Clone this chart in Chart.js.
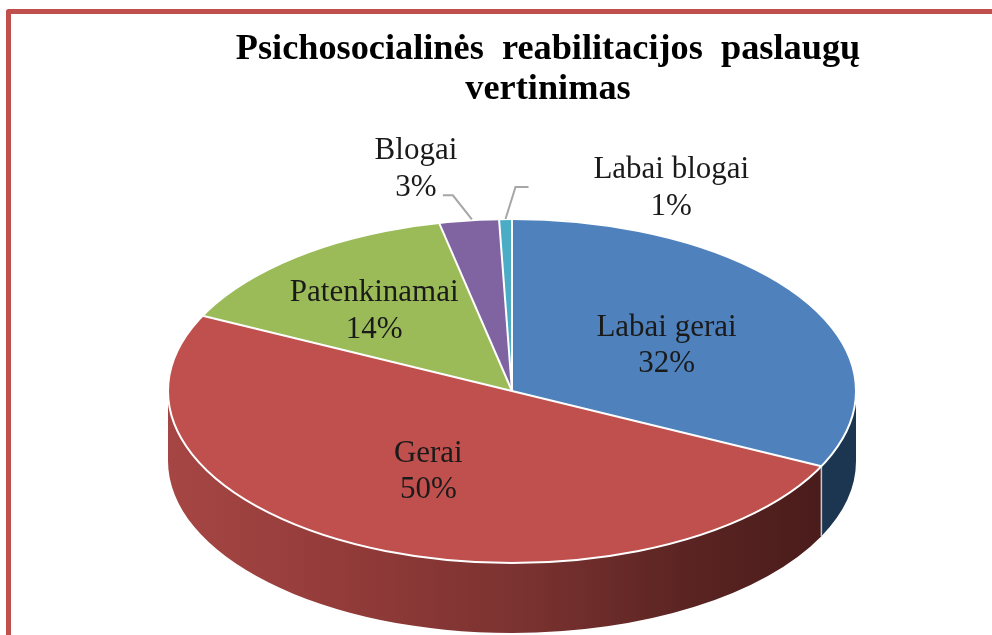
<!DOCTYPE html>
<html><head><meta charset="utf-8">
<style>html,body{margin:0;padding:0;background:#fff;overflow:hidden}canvas{display:block}</style>
<script src="https://cdn.jsdelivr.net/npm/chart.js@4"></script>
</head><body><canvas id="c" width="992" height="635"></canvas>
<script>
const categories = ["Labai gerai","Gerai","Patenkinamai","Blogai","Labai blogai"];
const values = [32.2,50.0,14.4,2.8,0.6];
const sliceColors = ["#4f81bd","#c0504d","#9bbb59","#8064a2","#4bacc6"];
const titleLines = ["Psichosocialinės  reabilitacijos  paslaugų","vertinimas"];

const pie3d = {cx:512,cy:391,rx:344,ry:172,depth:70};
const labelFont = '31px "Liberation Serif"';
const labelLineHeight = 36.5;
// label placement relative to each slice: radial factor, then pixel nudge
const labelPlace = [[0.53,0,3],[0.53,-4,-1],[0.62,-6,4],[1.3,-40,0],[1.19,167,2]];
// leader polylines, relative to the rim point of the slice
const leaders = [null,null,null,[[-26,-25],[-16,-25],[3,-1]],[[23,-32],[10,-32],[0,0]]];

function shadeSide(ctx,i){
  if(i===0) return "#1c3550";
  const g=ctx.createLinearGradient(pie3d.cx-pie3d.rx,0,pie3d.cx+308,0);
  g.addColorStop(0,"#a64644");
  g.addColorStop(0.25,"#943c3a");
  g.addColorStop(0.55,"#7a3230");
  g.addColorStop(0.8,"#5a2422");
  g.addColorStop(1,"#4a1c1b");
  return g;
}
const plugin = {
  id:"pie3d",
  beforeDraw(chart){
    const c=chart.ctx; c.save();
    c.fillStyle="#fff"; c.fillRect(0,0,chart.width,chart.height);
    c.strokeStyle="#c0504d"; c.lineWidth=5; c.lineJoin="round";
    c.strokeRect(8.5,11.5,1100,800);
    c.restore();
  },
  beforeDatasetsDraw(chart){
    const c=chart.ctx, arcs=chart.getDatasetMeta(0).data, p=pie3d;
    c.save();
    // side wall
    [1,0,2,3,4].forEach(i=>{
      const a=arcs[i];
      const a1=Math.max(a.startAngle,0), a2=Math.min(a.endAngle,Math.PI);
      if(a2<=a1) return;
      c.beginPath();
      c.ellipse(p.cx,p.cy,p.rx,p.ry,0,a1,a2);
      c.ellipse(p.cx,p.cy+p.depth,p.rx,p.ry,0,a2,a1,true);
      c.closePath();
      c.fillStyle=shadeSide(c,i); c.fill();
    });
    // seams of the wall
    arcs.forEach(a=>{
      const t=a.endAngle;
      if(t>0&&t<Math.PI){
        const x=p.cx+p.rx*Math.cos(t), y=p.cy+p.ry*Math.sin(t);
        c.beginPath(); c.moveTo(x,y); c.lineTo(x,y+p.depth);
        c.strokeStyle="#c9c9c9"; c.lineWidth=1.5; c.stroke();
      }
    });
    c.restore();
    // squash the flat pie into the ellipse
    const a0=arcs[0];
    c.save();
    c.translate(p.cx,p.cy);
    c.scale(p.rx/a0.outerRadius,p.ry/a0.outerRadius);
    c.translate(-a0.x,-a0.y);
  },
  afterDatasetsDraw(chart){
    const c=chart.ctx, arcs=chart.getDatasetMeta(0).data, p=pie3d;
    c.restore();
    c.save();
    // white seams on the top face
    c.strokeStyle="#fff"; c.lineWidth=2;
    c.beginPath(); c.ellipse(p.cx,p.cy,p.rx,p.ry,0,0,Math.PI*2); c.stroke();
    arcs.forEach(a=>{
      c.beginPath(); c.moveTo(p.cx,p.cy);
      c.lineTo(p.cx+p.rx*Math.cos(a.endAngle),p.cy+p.ry*Math.sin(a.endAngle));
      c.stroke();
    });
    // labels
    const total=values.reduce((s,v)=>s+v,0);
    c.textAlign="center"; c.textBaseline="middle"; c.font=labelFont; c.fillStyle="#1a1a1a";
    arcs.forEach((a,i)=>{
      const mid=(a.startAngle+a.endAngle)/2, cos=Math.cos(mid), sin=Math.sin(mid);
      const [f,dx,dy]=labelPlace[i];
      const x=p.cx+p.rx*cos*f+dx, y=p.cy+p.ry*sin*f+dy;
      c.fillText(categories[i],x,y-labelLineHeight/2);
      c.fillText(Math.round(values[i]/total*100)+"%",x,y+labelLineHeight/2);
      if(leaders[i]){
        const rx=p.cx+p.rx*cos, ry=p.cy+p.ry*sin;
        c.beginPath();
        leaders[i].forEach((o,k)=>{ k?c.lineTo(rx+o[0],ry+o[1]):c.moveTo(rx+o[0],ry+o[1]); });
        c.strokeStyle="#a6a6a6"; c.lineWidth=2; c.stroke();
      }
    });
    c.restore();
  }
};
new Chart(document.getElementById("c"),{
  type:"pie",
  data:{labels:categories,datasets:[{data:values,backgroundColor:sliceColors,borderWidth:0}]},
  options:{
    responsive:false,animation:false,
    layout:{padding:{left:104,top:30}},
    plugins:{
      legend:{display:false},tooltip:{enabled:false},
      title:{display:true,text:titleLines,color:"#000",
        font:{family:"Liberation Serif",size:36.3,weight:"bold",lineHeight:1.1},padding:{top:0,bottom:10}}
    },
    events:[]
  },
  plugins:[plugin]
});
</script></body></html>
